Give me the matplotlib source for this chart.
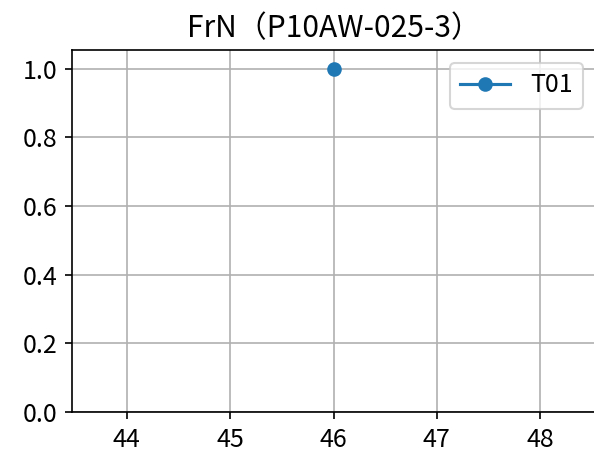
import matplotlib
matplotlib.use("Agg")
import matplotlib.pyplot as plt

plt.rcParams['font.family'] = ['Noto Sans CJK JP', 'DejaVu Sans']
plt.rcParams['font.size'] = 12

x_values = [46]
y_values = [1.0]
series_label = "T01"
title = "FrN（P10AW-025-3）"

fig = plt.figure(figsize=(594/150, 455/150), dpi=150)
ax = fig.add_axes([72/594, 43/455, 523/594, 362/455])
ax.plot(x_values, y_values, marker='o', label=series_label)
ax.set_ylim(bottom=0)
ax.set_title(title)
ax.grid(True)
ax.legend(loc='upper right')
fig.savefig("out.png", dpi=150)
